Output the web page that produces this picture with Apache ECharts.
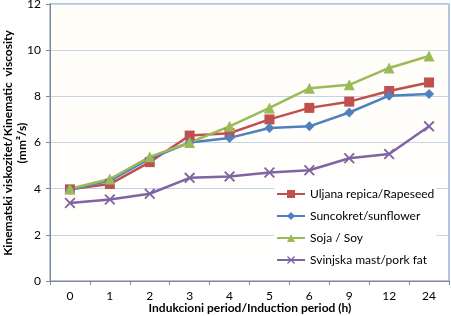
<!DOCTYPE html>
<html>
<head>
<meta charset="utf-8">
<script src="https://cdn.jsdelivr.net/npm/echarts@6/dist/echarts.min.js"></script>
<style>
  html, body { margin: 0; padding: 0; background: #fff; }
  #chart { width: 451px; height: 316px; }
</style>
</head>
<body>
<div id="chart"></div>
<script>
const categories = ['0', '1', '2', '3', '4', '5', '6', '9', '12', '24'];
const rapeseed  = [3.97, 4.2, 5.15, 6.3, 6.4, 7.0, 7.5, 7.77, 8.23, 8.6];
const sunflower = [3.95, 4.35, 5.3, 6.0, 6.2, 6.63, 6.7, 7.3, 8.03, 8.1];
const soy       = [4.0, 4.42, 5.38, 6.0, 6.7, 7.5, 8.35, 8.5, 9.23, 9.75];
const porkFat   = [3.38, 3.53, 3.78, 4.47, 4.53, 4.7, 4.8, 5.32, 5.5, 6.7];

const xTitle = 'Indukcioni period/Induction period (h)';
const yTitle = 'Kinematski viskozitet/Kinematic  viscosity\n(mm²/s)';

const colors = {
  rapeseed: '#C0504D',
  sunflower: '#4F81BD',
  soy: '#9BBB59',
  pork: '#8064A2',
  grid: '#C6D3E6',
  axis: '#888888'
};

const xSymbol = 'path://M0,1.2L1.2,0L5,3.8L8.8,0L10,1.2L6.2,5L10,8.8L8.8,10L5,6.2L1.2,10L0,8.8L3.8,5Z';

const chart = echarts.init(document.getElementById('chart'));

function lineSeries(name, data, color, symbol, size) {
  return {
    name: name,
    type: 'line',
    data: data,
    symbol: symbol,
    symbolSize: size,
    lineStyle: { width: 2.5, color: color },
    itemStyle: { color: color }
  };
}

const option = {
  backgroundColor: '#ffffff',
  animation: false,
  textStyle: { fontFamily: 'Lato' },
  grid: {
    left: 50,
    right: 2,
    top: 4,
    bottom: 35,
    outerBoundsMode: 'none',
    containLabel: false,
    show: true,
    borderColor: '#95B3D7',
    borderWidth: 1.5,
    backgroundColor: {
      type: 'linear', x: 0, y: 0, x2: 0, y2: 1,
      colorStops: [
        { offset: 0, color: '#FFFDF7' },
        { offset: 1, color: '#FFFFFF' }
      ]
    }
  },
  // axis titles
  graphic: [
    {
      type: 'text',
      x: 250,
      y: 308,
      style: {
        text: xTitle,
        fill: '#000',
        font: 'bold 12px Lato',
        align: 'center',
        verticalAlign: 'middle'
      }
    },
    {
      type: 'text',
      x: 15,
      y: 143,
      rotation: Math.PI / 2,
      style: {
        text: yTitle,
        fill: '#000',
        font: 'bold 12px Lato',
        lineHeight: 14,
        align: 'center',
        verticalAlign: 'middle'
      }
    }
  ],
  legend: {
    orient: 'vertical',
    left: 274,
    top: 186,
    itemGap: 10,
    itemWidth: 28,
    itemHeight: 10,
    backgroundColor: '#ffffff',
    padding: [2, 2, 2, 2],
    textStyle: { color: '#000', fontSize: 12, fontFamily: 'Lato' }
  },
  xAxis: {
    type: 'category',
    data: categories,
    boundaryGap: true,
    axisLine: { lineStyle: { color: colors.axis, width: 1 } },
    axisTick: { show: true, length: 4, lineStyle: { color: colors.axis } },
    axisLabel: { color: '#000', fontSize: 12, margin: 9 },
    splitLine: { show: false }
  },
  yAxis: {
    type: 'value',
    min: 0,
    max: 12,
    interval: 2,
    axisLine: { show: true, lineStyle: { color: colors.axis, width: 1 } },
    axisTick: { show: true, length: 4, lineStyle: { color: colors.axis } },
    axisLabel: { color: '#000', fontSize: 12, margin: 9 },
    splitLine: { show: true, lineStyle: { color: colors.grid, width: 1 } }
  },
  series: [
    lineSeries('Uljana repica/Rapeseed', rapeseed, colors.rapeseed, 'rect', 10),
    lineSeries('Suncokret/sunflower', sunflower, colors.sunflower, 'diamond', 10),
    lineSeries('Soja / Soy', soy, colors.soy, 'triangle', 11),
    lineSeries('Svinjska mast/pork fat', porkFat, colors.pork, xSymbol, 11)
  ]
};

chart.setOption(option);
window.addEventListener('resize', () => chart.resize());
</script>
</body>
</html>
